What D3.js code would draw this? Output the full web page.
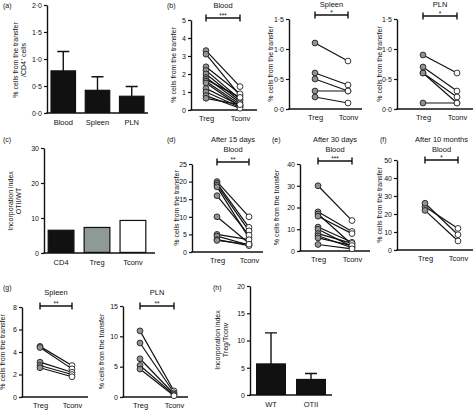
<!DOCTYPE html>
<html><head><meta charset="utf-8">
<script src="https://cdn.jsdelivr.net/npm/d3@7"></script>
<style>body{margin:0;background:#fff}svg{display:block}</style>
</head><body>
<svg id="c" width="474" height="410"></svg>
<script>
// ---------- data ----------
const groups = ["Treg", "Tconv"];

const aCats = ["Blood", "Spleen", "PLN"];
const aMeans = [0.78, 0.42, 0.31];
const aErrTop = [1.14, 0.67, 0.49];
const aTicks = [0, 0.5, 1.0, 1.5, 2.0];

const bBloodTreg  = [3.3, 3.1, 2.4, 2.2, 2.0, 1.8, 1.7, 1.6, 1.5, 1.2, 1.0, 0.8, 0.65];
const bBloodTconv = [1.3, 0.8, 0.9, 0.6, 0.5, 0.4, 0.7, 0.3, 0.2, 0.25, 0.15, 0.1, 0.3];
const bSpleenTreg  = [1.1, 0.6, 0.5, 0.3, 0.2];
const bSpleenTconv = [0.8, 0.4, 0.3, 0.3, 0.1];
const bPlnTreg  = [0.9, 0.7, 0.6, 0.6, 0.1];
const bPlnTconv = [0.6, 0.3, 0.2, 0.1, 0.1];
const bTicks = [0, 0.5, 1.0, 1.5];
const bBloodTicks = [0, 1, 2, 3, 4, 5];

const cCats = ["CD4", "Treg", "Tconv"];
const cValues = [6.5, 7.3, 9.3];
const cTicks = [0, 10, 20, 30];

const dTreg  = [20, 19.5, 19, 18.5, 16, 10, 5, 4.5, 3.5, 3.3];
const dTconv = [10, 7, 6, 4, 4.8, 2.5, 3.5, 2, 1.8, 2.2];
const dTicks = [0, 5, 10, 15, 20, 25];

const eTreg  = [30, 18, 17, 16, 11, 10, 8, 7, 6, 3];
const eTconv = [14, 9, 3, 8, 4, 2, 3.5, 1.5, 2.5, 1];
const eTicks = [0, 10, 20, 30, 40];

const fTreg  = [24, 26, 22];
const fTconv = [12, 8.5, 5];
const fTicks = [0, 10, 20, 30, 40, 50];

const gSpleenTreg  = [4.5, 4.4, 3.1, 2.8, 2.6];
const gSpleenTconv = [2.8, 2.5, 2.2, 2.0, 1.8];
const gSpleenTicks = [0, 2, 4, 6, 8];
const gPlnTreg  = [10.9, 8.9, 6.3, 5.2, 4.6];
const gPlnTconv = [1.0, 0.7, 0.5, 0.35, 0.2];
const gPlnTicks = [0, 5, 10, 15];

const hCats = ["WT", "OTII"];
const hMeans = [5.7, 2.85];
const hErrTop = [11.4, 3.95];
const hTicks = [0, 5, 10, 15, 20];

// ---------- drawing ----------
const FONT = "'Liberation Sans', Arial, sans-serif";
const svg = d3.select("#c");
const dotFmt = d => d3.format(".1f")(d).replace(".", "\u00b7");
const intFmt = d3.format("d");

function text(x, y, s, opt = {}) {
  const t = svg.append("text").attr("x", x).attr("y", y).text(s)
    .attr("font-family", FONT).attr("font-size", opt.size || 7)
    .attr("text-anchor", opt.anchor || "middle").attr("fill", "#111");
  if (opt.rotate) t.attr("transform", `rotate(-90,${x},${y})`);
  return t;
}

function yAxis(ax, y, ticks, fmt) {
  const g = svg.append("g").attr("transform", `translate(${ax},0)`)
    .call(d3.axisLeft(y).tickValues(ticks).tickFormat(fmt).tickSize(3).tickSizeOuter(0).tickPadding(2));
  g.select(".domain").attr("stroke", "#111").attr("stroke-width", 1.4);
  g.selectAll(".tick line").attr("stroke", "#111").attr("stroke-width", 1.2);
  g.selectAll(".tick text").attr("font-family", FONT).attr("font-size", 7).attr("fill", "#111");
}

function xAxis(x, yBot, ax, x1, labelDy) {
  svg.append("line").attr("x1", ax - 0.7).attr("x2", x1).attr("y1", yBot).attr("y2", yBot)
    .attr("stroke", "#111").attr("stroke-width", 1.4);
  const g = svg.append("g").attr("transform", `translate(0,${yBot})`)
    .call(d3.axisBottom(x).tickSize(0).tickPadding(labelDy || 5));
  g.select(".domain").remove();
  g.selectAll(".tick text").attr("font-family", FONT).attr("font-size", 7.5).attr("fill", "#111");
}

function sigBar(x0, x1, y, stars) {
  svg.append("path").attr("d", `M${x0},${y}H${x1}M${x0},${y - 3.5}V${y + 3.5}M${x1},${y - 3.5}V${y + 3.5}`)
    .attr("stroke", "#111").attr("stroke-width", 1.4).attr("fill", "none");
  text((x0 + x1) / 2, y - 0.5, stars, { size: 6.5 });
}

function paired(p) {
  const y = d3.scaleLinear().domain([0, p.max]).range([p.yBot, p.yTop]);
  const x = d3.scalePoint().domain(groups).range([p.tx, p.cx]);
  yAxis(p.ax, y, p.ticks, p.fmt);
  xAxis(x, p.yBot, p.ax, p.x1, 6);
  const pairs = p.treg.map((v, i) => [v, p.tconv[i]]);
  svg.append("g").selectAll("line").data(pairs).join("line")
    .attr("x1", x("Treg")).attr("x2", x("Tconv"))
    .attr("y1", d => y(d[0])).attr("y2", d => y(d[1]))
    .attr("stroke", "#111").attr("stroke-width", 1.2);
  svg.append("g").selectAll("circle").data(p.treg).join("circle")
    .attr("cx", x("Treg")).attr("cy", d => y(d)).attr("r", 2.9)
    .attr("fill", "#929292").attr("stroke", "#222").attr("stroke-width", 0.9);
  svg.append("g").selectAll("circle").data(p.tconv).join("circle")
    .attr("cx", x("Tconv")).attr("cy", d => y(d)).attr("r", 2.9)
    .attr("fill", "#fff").attr("stroke", "#222").attr("stroke-width", 0.9);
  sigBar(x("Treg"), x("Tconv"), p.sigY, p.stars);
  (p.titles || []).forEach(t => text((x("Treg") + x("Tconv")) / 2, t[1], t[0], { size: 7.5 }));
  text(p.labX, (p.yTop + p.yBot) / 2, "% cells from the transfer", { size: 7, rotate: true });
}

function bars(p) {
  const y = d3.scaleLinear().domain([0, p.max]).range([p.yBot, p.yTop]);
  const x = d3.scaleBand().domain(p.cats).range([p.ax, p.bx1]).paddingInner(0.25).paddingOuter(p.po || 0.1);
  yAxis(p.ax, y, p.ticks, p.fmt);
  const data = p.cats.map((c, i) => ({ c, v: p.values[i], e: p.err ? p.err[i] : null, f: p.fills[i] }));
  const g = svg.append("g");
  data.filter(d => d.e != null).forEach(d => {
    const cx = x(d.c) + x.bandwidth() / 2;
    g.append("path").attr("d", `M${cx},${y(d.v)}V${y(d.e)}M${cx - 6},${y(d.e)}H${cx + 6}`)
      .attr("stroke", "#111").attr("stroke-width", 1.4).attr("fill", "none");
  });
  g.selectAll("rect").data(data).join("rect")
    .attr("x", d => x(d.c) + 0.6).attr("width", x.bandwidth() - 1.2)
    .attr("y", d => y(d.v)).attr("height", d => y(0) - y(d.v) - 0.6)
    .attr("fill", d => d.f).attr("stroke", "#111").attr("stroke-width", 1.2);
  xAxis(x, p.yBot, p.ax, p.x1, 7);
  p.labels.forEach((l, i) => text(p.labX[i], p.labY, l, { size: 7, rotate: true }));
}

// (a)
bars({ cats: aCats, values: aMeans, err: aErrTop, fills: ["#111", "#111", "#111"], max: 2, ticks: aTicks, fmt: dotFmt,
  ax: 47, bx1: 148, x1: 148, yTop: 5, yBot: 113,
  labels: ["% cells from the transfer", "/CD4\u207a cells"], labX: [18, 26], labY: 60 });
// (b)
paired({ treg: bBloodTreg, tconv: bBloodTconv, max: 5, ticks: bBloodTicks, fmt: intFmt,
  ax: 191, x1: 257, tx: 206, cx: 240, yTop: 20, yBot: 110, sigY: 18, stars: "***",
  titles: [["Blood", 8]], labX: 176 });
paired({ treg: bSpleenTreg, tconv: bSpleenTconv, max: 1.5, ticks: bTicks, fmt: dotFmt,
  ax: 289, x1: 362, tx: 315, cx: 348, yTop: 19, yBot: 109, sigY: 15, stars: "*",
  titles: [["Spleen", 7]], labX: 273 });
paired({ treg: bPlnTreg, tconv: bPlnTconv, max: 1.5, ticks: bTicks, fmt: dotFmt,
  ax: 397, x1: 473, tx: 423, cx: 457, yTop: 19, yBot: 109, sigY: 16, stars: "*",
  titles: [["PLN", 7]], labX: 382 });
// (c)
bars({ cats: cCats, values: cValues, err: null, fills: ["#111", "#8f9996", "#fff"], max: 30, ticks: cTicks, fmt: intFmt,
  ax: 44, bx1: 150, x1: 155, yTop: 148, yBot: 253,
  labels: ["Incorporation index", "OTII/WT"], labX: [13, 21], labY: 201 });
// (d)
paired({ treg: dTreg, tconv: dTconv, max: 25, ticks: dTicks, fmt: intFmt,
  ax: 192, x1: 263, tx: 217, cx: 249, yTop: 164, yBot: 252, sigY: 162, stars: "**",
  titles: [["After 15 days", 142], ["Blood", 151.5]], labX: 179 });
// (e)
paired({ treg: eTreg, tconv: eTconv, max: 40, ticks: eTicks, fmt: intFmt,
  ax: 300, x1: 370, tx: 318, cx: 352, yTop: 164, yBot: 251, sigY: 161, stars: "***",
  titles: [["After 30 days", 142], ["Blood", 151.5]], labX: 279 });
// (f)
paired({ treg: fTreg, tconv: fTconv, max: 50, ticks: fTicks, fmt: intFmt,
  ax: 397, x1: 473, tx: 425, cx: 458, yTop: 160, yBot: 250, sigY: 160, stars: "*",
  titles: [["After 10 months", 142], ["Blood", 151.5]], labX: 382 });
// (g)
paired({ treg: gSpleenTreg, tconv: gSpleenTconv, max: 8, ticks: gSpleenTicks, fmt: intFmt,
  ax: 22, x1: 88, tx: 40, cx: 72, yTop: 307, yBot: 397, sigY: 306, stars: "**",
  titles: [["Spleen", 295]], labX: 5 });
paired({ treg: gPlnTreg, tconv: gPlnTconv, max: 15, ticks: gPlnTicks, fmt: intFmt,
  ax: 123, x1: 188, tx: 140, cx: 174, yTop: 306, yBot: 397, sigY: 306, stars: "**",
  titles: [["PLN", 295]], labX: 104 });
// (h)
bars({ cats: hCats, values: hMeans, err: hErrTop, fills: ["#111", "#111"], max: 20, ticks: hTicks, fmt: intFmt,
  ax: 250, bx1: 332, x1: 332, yTop: 286, yBot: 395, po: 0.15,
  labels: ["Incorporation index", "Treg/Tconv"], labX: [220, 228], labY: 340 });

// panel letters
[["(a)", 3, 8], ["(b)", 167, 8], ["(c)", 3, 142], ["(d)", 167, 142], ["(e)", 272, 142],
 ["(f)", 380, 142], ["(g)", 3, 290], ["(h)", 213, 290]].forEach(l => text(l[1], l[2], l[0], { size: 7, anchor: "start" }));
</script>
</body></html>
